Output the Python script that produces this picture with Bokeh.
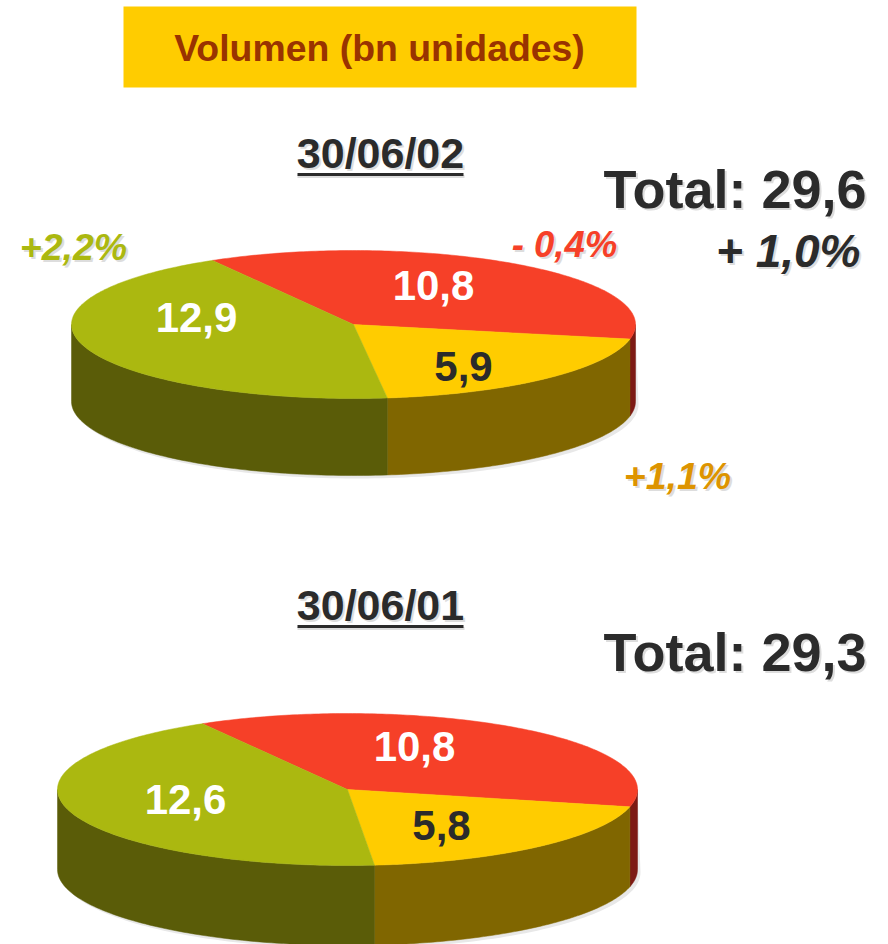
import numpy as np
from bokeh.plotting import figure
from bokeh.models import Range1d
from bokeh.core.properties import value
from bokeh.embed import file_html
from bokeh.resources import INLINE

title = "Volumen (bn unidades)"
slice_names = ["Rojo", "Amarillo", "Verde"]
values_02 = [10.8, 5.9, 12.9]
values_01 = [10.8, 5.8, 12.6]
labels_02 = ["10,8", "5,9", "12,9"]
labels_01 = ["10,8", "5,8", "12,6"]
date_02 = "30/06/02"
date_01 = "30/06/01"
total_02 = "Total: 29,6"
total_01 = "Total: 29,3"
change_total = "+ 1,0%"
changes = ["- 0,4%", "+1,1%", "+2,2%"]

top_colors = ["#F64028", "#FFCC00", "#ABB810"]
side_colors = ["#7D1A14", "#806600", "#5A5C08"]
label_colors = ["white", "#2B2B2B", "white"]
change_colors = ["#F64028", "#DD9400", "#ABB810"]
DARK = "#2B2B2B"
SHADOW = "#DDDDDD"
FONT = value("Liberation Sans")

p = figure(width=888, height=944, x_range=Range1d(0, 888), y_range=Range1d(944, 0),
           output_backend="svg", toolbar_location=None, min_border=0,
           background_fill_color="white", border_fill_color="white")
p.axis.visible = False
p.grid.visible = False
p.outline_line_color = None


def label(x, y, s, size, color, style="bold", align="center", shadow=True):
    if shadow:
        p.text([x + 2], [y + 2], text=[s], text_color=SHADOW, text_font=FONT,
               text_font_size=f"{size}px", text_font_style=style,
               text_align=align, text_baseline="middle")
    p.text([x], [y], text=[s], text_color=color, text_font=FONT,
           text_font_size=f"{size}px", text_font_style=style,
           text_align=align, text_baseline="middle")


def pie(vals, labels, cx, cy, rx, ry, depth, label_pos):
    fr = np.array(vals) / sum(vals)
    edges = 120 - np.concatenate([[0], np.cumsum(fr)]) * 360  # clockwise from 120 deg

    def pt(a):
        r = np.radians(a)
        return cx + rx * np.cos(r), cy - ry * np.sin(r)

    # soft shadow beneath the front wall
    a = np.linspace(-180, 0, 120)
    x, y = pt(a)
    p.patch(np.r_[x + 3, x[::-1]], np.r_[y + depth + 3, y[::-1]],
            fill_color="#E8E8E8", line_color=None)
    # front wall (only the part of each slice between -180 and 0 deg)
    for i in range(3):
        hi, lo = edges[i], edges[i + 1]
        for shift in (0, 360):
            h, l = min(hi + shift, 0), max(lo + shift, -180)
            if h > l:
                a = np.linspace(h, l, 80)
                x, y = pt(a)
                p.patch(np.r_[x, x[::-1]], np.r_[y, (y + depth)[::-1]],
                        fill_color=side_colors[i], line_color=side_colors[i], line_width=0.5)
    # top face
    for i in range(3):
        a = np.linspace(edges[i], edges[i + 1], 160)
        x, y = pt(a)
        p.patch(np.r_[cx, x], np.r_[cy, y], fill_color=top_colors[i],
                line_color=top_colors[i], line_width=0.5)
    for s, c, (lx, ly) in zip(labels, label_colors, label_pos):
        label(lx, ly, s, 42, c, shadow=False)


# header
p.quad(left=[123], right=[636], top=[6], bottom=[87], fill_color="#FFCC00", line_color=None)
label(379, 47, title, 37.4, "#993300", shadow=False)

# upper pie
pie(values_02, labels_02, 353, 324, 282, 74, 77, [(433, 285), (463, 366), (196, 317)])
label(380, 152, date_02, 43, DARK)
p.line([297, 464], [176, 176], line_color=SHADOW, line_width=3)
p.line([297, 463], [174, 174], line_color=DARK, line_width=3)
label(866, 188, total_02, 54, DARK, align="right")
label(860, 250, change_total, 46, DARK, style="bold italic", align="right")
label(564, 244, changes[0], 36.5, change_colors[0], style="bold italic")
label(677, 475, changes[1], 37.5, change_colors[1], style="bold italic")
label(73, 246, changes[2], 37.5, change_colors[2], style="bold italic")

# lower pie
pie(values_01, labels_01, 347, 789, 290, 76, 80, [(414, 746), (441, 825), (185, 799)])
label(380, 604, date_01, 43, DARK)
p.line([297, 464], [628, 628], line_color=SHADOW, line_width=3)
p.line([297, 463], [626, 626], line_color=DARK, line_width=3)
label(866, 651, total_01, 54, DARK, align="right")

open("out.html", "w").write(file_html(p, INLINE))
